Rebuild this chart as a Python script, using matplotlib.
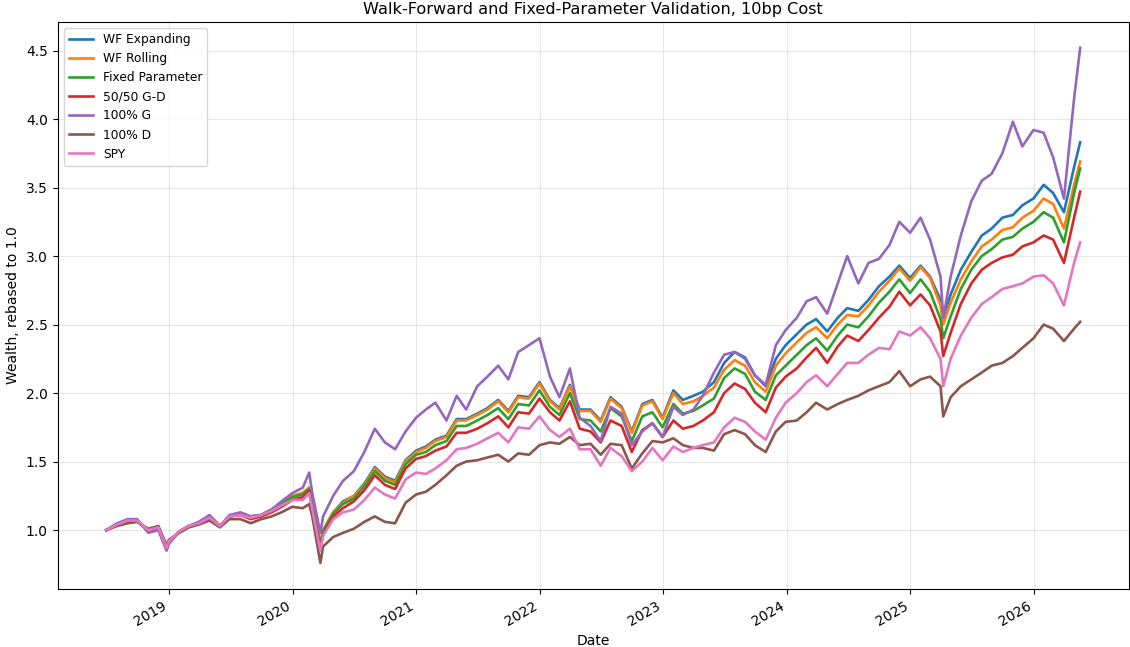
import pandas as pd
import matplotlib
matplotlib.use("Agg")
import matplotlib.pyplot as plt

# month-end samples (plus a few event days)
dates = pd.to_datetime([
    "2018-06-29", "2018-07-31", "2018-08-31", "2018-09-28", "2018-10-31", "2018-11-30",
    "2018-12-24", "2018-12-31",
    "2019-01-31", "2019-02-28", "2019-03-29", "2019-04-30", "2019-05-31", "2019-06-28",
    "2019-07-31", "2019-08-30", "2019-09-30", "2019-10-31", "2019-11-29", "2019-12-31",
    "2020-01-31", "2020-02-19", "2020-02-28", "2020-03-23", "2020-03-31", "2020-04-30",
    "2020-05-29", "2020-06-30", "2020-07-31", "2020-08-31", "2020-09-30", "2020-10-30",
    "2020-11-30", "2020-12-31",
    "2021-01-29", "2021-02-26", "2021-03-31", "2021-04-30", "2021-05-28", "2021-06-30",
    "2021-07-30", "2021-08-31", "2021-09-30", "2021-10-29", "2021-11-30", "2021-12-31",
    "2022-01-31", "2022-02-28", "2022-03-31", "2022-04-29", "2022-05-31", "2022-06-30",
    "2022-07-29", "2022-08-31", "2022-09-30", "2022-10-31", "2022-11-30", "2022-12-30",
    "2023-01-31", "2023-02-28", "2023-03-31", "2023-04-28", "2023-05-31", "2023-06-30",
    "2023-07-31", "2023-08-31", "2023-09-29", "2023-10-31", "2023-11-30", "2023-12-29",
    "2024-01-31", "2024-02-29", "2024-03-28", "2024-04-30", "2024-05-31", "2024-06-28",
    "2024-07-31", "2024-08-30", "2024-09-30", "2024-10-31", "2024-11-29", "2024-12-31",
    "2025-01-31", "2025-02-28", "2025-03-31", "2025-04-08", "2025-04-30", "2025-05-30",
    "2025-06-30", "2025-07-31", "2025-08-29", "2025-09-30", "2025-10-31", "2025-11-28",
    "2025-12-31",
    "2026-01-30", "2026-02-27", "2026-03-31", "2026-04-30", "2026-05-18",
])

wf_expanding = [
    1.00, 1.04, 1.07, 1.07, 0.99, 1.01, 0.86, 0.91,
    0.99, 1.03, 1.05, 1.10, 1.03, 1.10, 1.12, 1.10, 1.11, 1.15, 1.19, 1.25,
    1.27, 1.31, 1.18, 0.90, 1.00, 1.13, 1.21, 1.25, 1.34, 1.46, 1.39, 1.36, 1.51, 1.58,
    1.61, 1.66, 1.69, 1.81, 1.81, 1.85, 1.89, 1.95, 1.87, 1.98, 1.97, 2.08,
    1.95, 1.89, 2.06, 1.88, 1.88, 1.80, 1.97, 1.90, 1.72, 1.92, 1.95, 1.82,
    2.02, 1.95, 1.98, 2.01, 2.08, 2.22, 2.30, 2.26, 2.13, 2.05, 2.25, 2.35,
    2.43, 2.50, 2.54, 2.45, 2.55, 2.62, 2.60, 2.68, 2.78, 2.85, 2.93, 2.84,
    2.93, 2.85, 2.68, 2.55, 2.72, 2.90, 3.03, 3.15, 3.20, 3.28, 3.30, 3.37, 3.42,
    3.52, 3.46, 3.32, 3.65, 3.83,
]
wf_rolling = [
    1.00, 1.04, 1.07, 1.07, 0.99, 1.01, 0.86, 0.91,
    0.99, 1.03, 1.05, 1.10, 1.03, 1.10, 1.12, 1.10, 1.11, 1.15, 1.19, 1.25,
    1.27, 1.31, 1.18, 0.90, 1.00, 1.13, 1.20, 1.25, 1.33, 1.45, 1.38, 1.35, 1.50, 1.57,
    1.60, 1.65, 1.68, 1.80, 1.80, 1.84, 1.88, 1.94, 1.86, 1.97, 1.96, 2.07,
    1.94, 1.88, 2.05, 1.87, 1.87, 1.79, 1.96, 1.89, 1.71, 1.91, 1.94, 1.81,
    2.00, 1.92, 1.94, 1.98, 2.04, 2.17, 2.24, 2.20, 2.08, 2.01, 2.20, 2.29,
    2.37, 2.44, 2.48, 2.40, 2.50, 2.57, 2.56, 2.64, 2.74, 2.82, 2.91, 2.82,
    2.92, 2.84, 2.64, 2.50, 2.66, 2.83, 2.96, 3.07, 3.12, 3.19, 3.21, 3.28, 3.33,
    3.42, 3.38, 3.20, 3.52, 3.69,
]
fixed_param = [
    1.00, 1.04, 1.07, 1.07, 0.99, 1.01, 0.86, 0.91,
    0.99, 1.03, 1.05, 1.10, 1.03, 1.10, 1.12, 1.10, 1.11, 1.15, 1.19, 1.24,
    1.26, 1.30, 1.17, 0.89, 0.99, 1.12, 1.19, 1.23, 1.32, 1.43, 1.36, 1.33, 1.48, 1.55,
    1.57, 1.62, 1.65, 1.76, 1.76, 1.80, 1.84, 1.89, 1.81, 1.92, 1.91, 2.02,
    1.90, 1.84, 2.00, 1.81, 1.80, 1.72, 1.89, 1.83, 1.65, 1.83, 1.86, 1.75,
    1.92, 1.85, 1.87, 1.91, 1.96, 2.11, 2.18, 2.14, 2.01, 1.95, 2.13, 2.20,
    2.28, 2.35, 2.40, 2.31, 2.42, 2.50, 2.48, 2.56, 2.66, 2.74, 2.83, 2.73,
    2.83, 2.74, 2.54, 2.40, 2.56, 2.76, 2.90, 3.00, 3.05, 3.12, 3.14, 3.20, 3.25,
    3.32, 3.28, 3.10, 3.46, 3.64,
]
gd_5050 = [
    1.00, 1.04, 1.06, 1.07, 1.00, 1.02, 0.87, 0.92,
    0.99, 1.03, 1.05, 1.09, 1.03, 1.10, 1.11, 1.08, 1.10, 1.13, 1.17, 1.22,
    1.24, 1.29, 1.15, 0.87, 0.97, 1.10, 1.16, 1.21, 1.29, 1.40, 1.33, 1.30, 1.45, 1.52,
    1.54, 1.58, 1.61, 1.71, 1.71, 1.74, 1.78, 1.83, 1.75, 1.86, 1.85, 1.96,
    1.86, 1.80, 1.94, 1.74, 1.72, 1.64, 1.80, 1.76, 1.57, 1.73, 1.78, 1.68,
    1.80, 1.74, 1.76, 1.80, 1.86, 2.00, 2.07, 2.03, 1.93, 1.86, 2.04, 2.12,
    2.18, 2.26, 2.33, 2.22, 2.34, 2.42, 2.38, 2.46, 2.55, 2.63, 2.74, 2.64,
    2.72, 2.64, 2.45, 2.27, 2.44, 2.65, 2.80, 2.90, 2.95, 2.99, 3.01, 3.07, 3.10,
    3.15, 3.12, 2.95, 3.28, 3.47,
]
all_g = [
    1.00, 1.05, 1.08, 1.08, 0.98, 1.00, 0.85, 0.90,
    0.99, 1.03, 1.06, 1.11, 1.03, 1.11, 1.13, 1.10, 1.11, 1.15, 1.21, 1.27,
    1.31, 1.42, 1.27, 0.98, 1.10, 1.25, 1.36, 1.43, 1.57, 1.74, 1.64, 1.59, 1.72, 1.82,
    1.88, 1.93, 1.80, 1.98, 1.88, 2.05, 2.12, 2.20, 2.10, 2.30, 2.35, 2.40,
    2.12, 1.97, 2.18, 1.82, 1.76, 1.65, 1.90, 1.85, 1.62, 1.72, 1.78, 1.68,
    1.90, 1.84, 1.88, 1.98, 2.15, 2.28, 2.30, 2.25, 2.13, 2.06, 2.35, 2.46,
    2.55, 2.67, 2.70, 2.58, 2.80, 3.00, 2.80, 2.95, 2.98, 3.08, 3.25, 3.17,
    3.28, 3.12, 2.85, 2.55, 2.85, 3.15, 3.40, 3.55, 3.60, 3.75, 3.98, 3.80, 3.92,
    3.90, 3.72, 3.42, 4.15, 4.52,
]
all_d = [
    1.00, 1.03, 1.05, 1.06, 1.01, 1.03, 0.89, 0.93,
    0.98, 1.02, 1.04, 1.07, 1.02, 1.08, 1.08, 1.05, 1.08, 1.10, 1.13, 1.17,
    1.16, 1.19, 1.10, 0.76, 0.88, 0.95, 0.98, 1.01, 1.06, 1.10, 1.06, 1.05, 1.20, 1.26,
    1.28, 1.33, 1.40, 1.47, 1.50, 1.51, 1.53, 1.55, 1.50, 1.56, 1.55, 1.62,
    1.64, 1.63, 1.68, 1.62, 1.63, 1.55, 1.63, 1.62, 1.45, 1.56, 1.65, 1.64,
    1.67, 1.62, 1.60, 1.60, 1.58, 1.70, 1.73, 1.70, 1.62, 1.57, 1.72, 1.79,
    1.80, 1.86, 1.93, 1.88, 1.92, 1.95, 1.98, 2.02, 2.05, 2.08, 2.16, 2.05,
    2.10, 2.12, 2.05, 1.83, 1.97, 2.05, 2.10, 2.15, 2.20, 2.22, 2.27, 2.33, 2.40,
    2.50, 2.47, 2.38, 2.47, 2.52,
]
spy = [
    1.00, 1.04, 1.07, 1.07, 1.00, 1.02, 0.87, 0.92,
    0.99, 1.03, 1.05, 1.09, 1.03, 1.10, 1.11, 1.09, 1.11, 1.14, 1.18, 1.22,
    1.22, 1.27, 1.15, 0.85, 0.96, 1.08, 1.13, 1.15, 1.22, 1.31, 1.26, 1.23, 1.37, 1.42,
    1.41, 1.45, 1.51, 1.59, 1.60, 1.63, 1.67, 1.71, 1.64, 1.75, 1.74, 1.83,
    1.73, 1.68, 1.74, 1.59, 1.59, 1.47, 1.60, 1.54, 1.43, 1.50, 1.60, 1.51,
    1.61, 1.57, 1.60, 1.62, 1.64, 1.75, 1.82, 1.79, 1.72, 1.66, 1.82, 1.93,
    2.00, 2.08, 2.13, 2.05, 2.14, 2.22, 2.22, 2.28, 2.33, 2.32, 2.45, 2.42,
    2.48, 2.40, 2.25, 2.05, 2.25, 2.42, 2.55, 2.65, 2.70, 2.76, 2.78, 2.80, 2.85,
    2.86, 2.80, 2.64, 2.95, 3.10,
]

series = [
    ("WF Expanding", wf_expanding),
    ("WF Rolling", wf_rolling),
    ("Fixed Parameter", fixed_param),
    ("50/50 G-D", gd_5050),
    ("100% G", all_g),
    ("100% D", all_d),
    ("SPY", spy),
]

fig, ax = plt.subplots(figsize=(11.3, 6.47), dpi=100)
for name, vals in series:
    ax.plot(dates, vals, lw=1.9, label=name)

ax.set_title("Walk-Forward and Fixed-Parameter Validation, 10bp Cost", fontsize=11.6)
ax.set_xlabel("Date")
ax.set_ylabel("Wealth, rebased to 1.0")
ax.grid(True, alpha=0.3)
ax.legend(loc="upper left", fontsize=8.8)
fig.autofmt_xdate()
fig.subplots_adjust(left=0.051, right=0.999, top=0.966, bottom=0.09)
fig.savefig("out.png")
